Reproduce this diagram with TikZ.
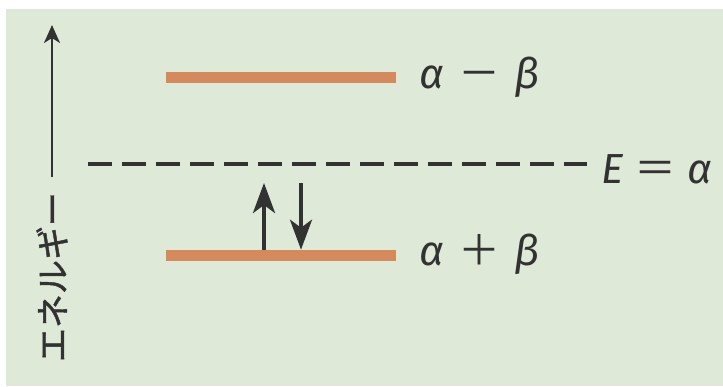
\documentclass[tikz,border=0pt]{standalone}
\usepackage{fontspec}
\setmainfont{Fira Sans}
\newfontfamily\jpfont{Noto Sans CJK JP}
\newfontfamily\axisfont[FakeBold=1.3]{Noto Sans CJK JP}
\usetikzlibrary{arrows.meta}
\definecolor{bggreen}{RGB}{223,233,216}
\definecolor{levelorange}{RGB}{212,138,92}
\definecolor{inkgray}{RGB}{50,50,50}

\begin{document}
\begin{tikzpicture}[x=0.5pt,y=-0.5pt,
  level/.style={fill=levelorange,draw=none,inner sep=0pt,minimum width=115pt,minimum height=5.4pt},
  lbl/.style={inkgray,inner sep=0pt,anchor=base west,font=\fontsize{21}{24}\selectfont},
  spin/.style={inkgray,line width=2pt,-{Stealth[length=15pt,width=11pt,inset=4pt]}},
  axis/.style={inkgray,line width=1.3pt,-{Stealth[length=9pt,width=8pt,inset=2.5pt]}},
  dashline/.style={inkgray,line width=1.6pt,dash pattern=on 12pt off 5pt}]
  % frame
  \useasboundingbox (0,0) rectangle (723,386);
  \fill[white] (0,0) rectangle (723,386);
  \fill[bggreen] (6,9) rectangle (723,386);
  % energy axis
  \coordinate (ax0) at (52,177);
  \coordinate (ax1) at (52,25);
  \draw[axis] (ax0) -- (ax1);
  \node[inkgray,rotate=90,inner sep=0pt,font=\axisfont\fontsize{17}{18}\selectfont] (elabel) at (52,277) {エネルギー};
  % levels
  \node[level] (top) at (281,77.5) {};
  \node[level] (bot) at (281,255.5) {};
  \node[lbl] (topl) at (419,88) {\textit{α}\hspace{7pt}{\jpfont －}\hspace{7pt}\textit{β}};
  \node[lbl] (botl) at (419,265) {\textit{α}\hspace{7pt}{\jpfont ＋}\hspace{7pt}\textit{β}};
  % nonbonding level
  \node[lbl] (eq) at (601,183) {\textit{E}\hspace{5.5pt}{\jpfont ＝}\hspace{5.5pt}\textit{α}};
  \coordinate (dash0) at (88,164);
  \draw[dashline] (dash0) -- ([xshift=-7pt]eq.west |- dash0);
  % electrons
  \coordinate (upa) at (264,183);
  \coordinate (dna) at (301,183);
  \draw[spin] (bot.north -| upa) -- (upa);
  \draw[spin] (dna) -- (bot.north -| dna);
\end{tikzpicture}
\end{document}
